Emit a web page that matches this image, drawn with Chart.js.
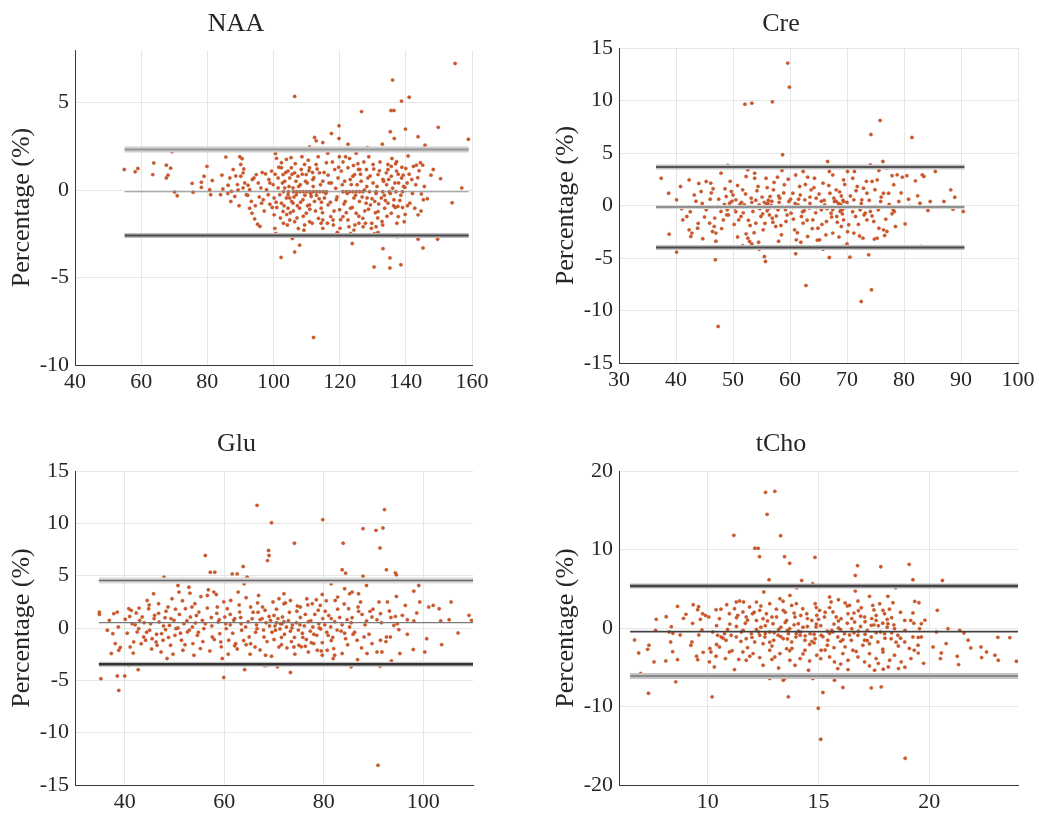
<!DOCTYPE html>
<html>
<head>
<meta charset="utf-8">
<script src="https://cdn.jsdelivr.net/npm/chart.js@4.4.1/dist/chart.umd.min.js"></script>
<style>
  html, body { margin: 0; padding: 0; background: #ffffff; }
  body { width: 1039px; height: 818px; position: relative; overflow: hidden; }
  .panel { position: absolute; }
</style>
</head>
<body>
<div class="panel" style="left:0px;top:0px;width:520px;height:405px"><canvas id="naa" width="520" height="405"></canvas></div>
<div class="panel" style="left:520px;top:0px;width:519px;height:405px"><canvas id="cre" width="519" height="405"></canvas></div>
<div class="panel" style="left:0px;top:410px;width:520px;height:408px"><canvas id="glu" width="520" height="408"></canvas></div>
<div class="panel" style="left:520px;top:410px;width:519px;height:408px"><canvas id="tcho" width="519" height="408"></canvas></div>
<script>
// Bland-Altman style panels: mean concentration (x) vs. percentage difference (y)

const panelTitles = ['NAA', 'Cre', 'Glu', 'tCho'];
const yAxisLabel = 'Percentage (%)';

// ---------- NAA ----------
const naaXTicks = [40, 60, 80, 100, 120, 140, 160];
const naaYTicks = [-10, -5, 0, 5];
const naaXRange = [40, 160];
const naaYRange = [-10, 8];
const naaLimits = [2.32, -0.1, -2.6];   // upper limit, mean bias, lower limit
const naaSpan = [55, 159];
const naaPoints = [
  [154.9,7.23],[136.0,6.28],[112.1,-8.43],
  [54.9,1.17],[58.2,1.04],[59.0,1.23],[63.8,1.54],[63.5,0.88],[67.6,1.42],[68.9,1.25],[67.6,0.69],[68.1,0.85],[69.3,2.19],
  [70.1,-0.12],[70.9,-0.33],[75.4,0.38],[75.7,-0.13],[78.2,0.44],[78.2,0.15],[79.0,0.79],[79.9,1.35],[80.7,0.02],[81.0,-0.27],
  [81.5,0.54],[84.0,-0.27],[84.4,0.85],[84.7,0.06],[85.6,1.88],[86.3,0.27],[86.8,0.69],[87.3,-0.08],[87.1,-0.65],[87.8,1.17],
  [88.3,-0.37],[89.1,0.31],[89.3,0.0],[89.8,1.9],[90.5,1.79],[90.1,1.46],[90.1,0.79],[90.8,0.98],[91.3,0.4],[90.8,0.12],
  [91.8,-0.27],[92.3,0.27],[92.8,0.02],[93.3,-0.65],[92.8,-1.04],[93.5,-1.33],[94.3,-1.65],[95.2,-1.96],[95.9,-2.08],[94.1,0.69],
  [94.8,0.88],[95.4,0.4],[96.4,-0.75],[96.9,-0.56],[96.2,0.12],[97.6,0.92],[97.9,0.02],[98.4,-0.27],[98.9,-0.81],[98.6,0.6],
  [99.4,1.08],[99.9,0.31],[100.2,-0.46],[100.6,2.08],[100.9,1.81],[100.2,-1.42],[100.4,-2.19],[100.7,-2.48],[102.3,-3.85],
  [102.4,1.56],[102.9,0.88],[103.4,0.12],[103.9,-0.46],[104.4,-1.04],[104.9,-1.71],[103.9,1.75],[105.3,1.85],
  [101.4,0.12],[101.9,-0.27],[102.4,-0.75],[102.9,-1.23],[103.4,0.5],[104.4,-0.27],[105.5,-0.65],[105.9,0.12],[101.4,0.69],
  [102.4,1.27],[104.4,1.08],
  [106.4,5.35],[138.7,5.08],[141.0,5.3],[126.6,4.48],[135.5,4.54],[136.4,4.54],[119.8,3.67],[117.5,3.23],[119.8,2.94],
  [112.4,3.0],[112.9,2.81],[114.9,2.71],[135.3,3.33],[136.5,2.94],[139.9,3.48],[143.7,3.04],[149.8,3.58],[158.9,2.9],
  [110.9,2.46],[111.4,2.27],[122.5,2.62],[128.4,2.42],[132.9,2.62],[140.2,2.37],[145.8,2.56],[150.3,2.27],[140.7,1.94],
  [137.2,1.62],[143.2,1.42],[144.4,1.56],[145.1,1.42],[142.3,1.35],[148.3,1.17],[147.6,0.85],[150.5,0.65],[140.0,1.23],
  [139.2,0.85],[140.4,0.4],[139.7,0.15],[156.9,0.12],[154.0,-0.73],[144.7,-0.23],[141.2,-0.75],[145.3,-0.56],[142.7,-1.04],
  [143.7,-1.42],[137.7,-1.52],[139.5,-1.81],[137.4,-2.67],[143.7,-2.81],[149.6,-2.81],[145.2,-3.31],[133.1,-3.35],[123.8,-3.06],
  [106.4,-3.54],[107.9,-3.15],[130.4,-4.4],[135.2,-4.46],[138.5,-4.27],[135.2,-3.88],[105.7,-2.77],[123.3,-2.48],[124.3,-2.29],
  [119.3,-2.42],[129.6,-2.19],[131.6,-2.42],[114.9,-2.19],[109.4,-2.0],[128.1,1.17],[130.1,1.46],[134.6,1.46],[135.6,1.35],
  [136.9,1.5],[134.1,0.98],[126.1,1.17],[124.0,0.79],
  [105.4,1.27],[106.4,0.98],[104.9,0.69],[107.4,0.79],[108.4,1.17],[109.4,1.46],[109.9,0.88],[110.9,1.27],[111.9,0.6],
  [112.9,1.46],[113.9,0.98],[114.9,0.5],[116.0,1.56],[116.5,0.85],[117.5,0.4],[118.5,1.17],[119.5,0.69],[120.5,1.08],
  [121.5,0.5],[122.5,1.27],[123.5,0.31],[124.5,0.88],[125.7,1.17],[126.5,0.5],[128.5,0.69],[130.1,0.4],[131.6,0.88],
  [133.1,0.6],[134.6,1.17],[135.6,0.79],[137.2,1.08],[138.7,0.69],
  [103.0,-0.1],[104.5,-0.1],[106.0,-0.1],[107.0,-0.1],[108.0,-0.1],[109.0,-0.1],[110.0,-0.1],[111.0,-0.1],[112.0,-0.1],
  [113.0,-0.1],[114.0,-0.1],[115.0,-0.1],[116.0,-0.1],[121.0,-0.1],[122.0,-0.1],[123.0,-0.1],[124.0,-0.1],[125.0,-0.1],
  [126.0,-0.1],[127.0,-0.1],[129.0,-0.1],[131.0,-0.1],[133.0,-0.1],[135.0,-0.1],[137.0,-0.1],[139.0,-0.1],
  [104.9,-0.46],[105.9,-0.75],[106.9,-0.27],[107.9,-1.04],[108.9,-0.56],[109.9,-1.33],[110.9,-0.85],[111.4,-0.37],
  [112.4,-0.65],[113.6,-1.62],[114.4,-1.04],[115.4,-0.46],[114.9,-1.71],[116.5,-0.85],[117.3,-1.52],[118.0,-1.71],
  [119.0,-0.56],[120.0,-1.13],[121.0,-1.52],[121.7,-0.65],[122.5,-1.71],[123.3,-1.04],[124.3,-0.46],[125.0,-1.33],
  [126.0,-0.65],[127.0,-1.62],[128.0,-0.75],[128.3,-0.46],[129.3,-0.85],[129.7,-1.9],[130.6,-0.65],[131.6,-1.23],
  [132.6,-0.46],[133.6,-1.04],[134.6,-0.75],[135.6,-1.33],[136.4,-0.56],[137.6,-0.94],
  [118.1,-2.0],[120.1,-2.19],[124.6,-2.0],[127.1,-2.1],[114.4,-1.9],[110.9,-1.81],[106.4,-1.81],
  [106.0,-1.2],[107.2,-0.9],[108.1,0.3],[109.0,-1.5],[110.2,0.4],[111.0,-1.1],[106.8,0.5],[108.6,1.9],[110.5,1.7],
  [107.5,-2.2],[112.0,0.2],[113.0,-0.3],[104.0,-1.4],[103.0,-1.9],[101.0,-1.0],[100.5,0.9],[109.5,-0.3],[111.8,1.0],
  [113.5,1.9],[114.5,-0.7],
  [121.0,1.6],[123.0,1.8],[125.5,1.5],[127.5,0.0],[128.8,1.9],[131.0,-0.2],[132.0,1.1],[133.5,-0.3],[134.2,0.3],
  [136.0,0.1],[137.8,0.4],[138.5,-0.3],[139.0,-1.0],[136.8,-1.0],[131.5,-1.6],[127.6,-1.2],[125.8,-1.9],[122.0,-1.3],
  [130.5,-2.5],[126.5,-2.6],[133.0,-2.0],[140.5,-0.9],[141.8,0.6],[143.0,0.3],[144.0,1.1],
  [100.8,-0.7],[101.6,1.3],[102.1,-1.6],[102.7,0.4],[103.2,-0.9],[103.7,1.0],[104.2,-2.0],[104.7,0.2],[105.1,-1.3],[105.6,0.9],
  [106.2,-0.4],[106.6,1.5],[107.1,-1.6],[107.6,0.2],[108.2,-0.7],[108.7,0.9],[109.2,-2.3],[109.7,0.5],[110.3,-0.9],[110.7,1.1],
  [111.2,-0.2],[111.7,-1.9],[112.2,0.7],[112.7,-1.2],[113.2,1.2],[113.8,-0.5],[114.2,0.3],[114.8,-1.3],[115.3,1.0],[115.8,-0.2],
  [116.3,-1.9],[116.8,0.4],[117.2,-0.7],[117.8,1.6],[118.3,-1.2],[118.8,0.1],[119.2,-0.4],[119.7,1.3],[120.3,-1.7],[120.8,0.3],
  [121.3,-0.8],[121.8,1.9],[122.3,-0.2],[122.8,-2.1],[123.2,0.6],[123.8,-1.0],[124.2,1.4],[124.8,-0.3],[125.3,0.3],[125.8,-1.5],
  [126.3,0.9],[126.8,-0.4],[127.3,1.6],[127.8,-1.9],[128.2,0.2],[128.7,-1.1],[129.2,0.8],[129.8,-0.5],[130.3,1.2],[130.8,-1.3],
  [131.3,0.2],[131.8,-0.8],[132.2,1.6],[132.8,-1.8],[133.3,0.5],[133.8,-0.6],[134.3,-1.5],[134.8,0.6],[135.3,-0.2],[135.8,1.8],
  [136.3,-0.9],[136.7,0.4],[137.3,-1.9],[137.7,0.9],[138.2,-0.6],[138.8,1.3],[139.3,0.2],[139.8,-1.4],[99.6,-1.0],[98.9,0.4],
  [97.2,-1.2],[96.6,1.0],[95.7,-0.4],[94.5,-0.9],[93.6,0.6],[92.2,-0.3],[91.0,1.2],[89.6,-0.9],[88.6,0.8],[86.2,-0.2],
  [142.0,-0.2],[141.0,0.9],[143.6,0.7],[144.6,-1.2],[145.6,0.2],[146.5,-0.5],[119.9,1.9],[116.4,2.1],[125.0,2.1],[131.0,-2.1]
];

// ---------- Cre ----------
const creXTicks = [30, 40, 50, 60, 70, 80, 90, 100];
const creYTicks = [-15, -10, -5, 0, 5, 10, 15];
const creXRange = [30, 100];
const creYRange = [-15, 15];
const creLimits = [3.66, -0.15, -4.0];
const creSpan = [36.5, 90.6];
const crePoints = [
  [59.6,13.56],[59.9,11.27],[52.1,9.65],[53.3,9.75],[56.9,9.87],[75.8,8.1],[74.2,6.76],[81.4,6.48],[82.4,0.92],
  [40.1,-4.44],[46.9,-5.17],[54.6,-4.16],[66.9,-4.95],[74.3,-8.03],[72.5,-9.14],[47.4,-11.52],[61.0,-4.6],[65.8,-4.16],
  [69.4,-3.9],[51.7,-3.84],[53.3,-3.65],
  [37.4,2.6],[47.9,3.08],[49.1,3.81],[52.6,3.4],[53.8,3.08],[52.3,2.76],[58.7,4.83],[58.6,3.33],[62.3,3.24],[63.1,2.7],
  [66.9,3.24],[66.6,4.19],[42.3,2.44],[40.8,1.81],[38.7,1.17],[40.1,0.54],[44.4,1.33],[45.3,2.29],[46.1,2.13],[38.8,-2.73],
  [41.2,-1.37],[41.9,-1.05],[42.3,-2.32],[42.6,-2.95],[42.8,-2.63],[43.8,-2.16],[44.7,-3.17],[45.9,-1.68],[46.4,-2.48],
  [46.7,-2.0],[47.0,-2.63],[47.3,-0.1],[47.9,-0.57],[48.3,-1.37],[48.9,-0.89],[48.8,0.86],[49.4,0.22],[49.7,1.33],
  [50.3,-0.25],[50.5,0.54],[51.0,-1.37],[51.4,-1.05],[51.7,1.49],[52.0,0.06],[52.3,-2.7],[52.6,-3.11],[52.9,-3.43],
  [53.2,0.7],[53.5,-0.57],[54.0,-1.68],[54.4,1.81],[54.6,0.06],[54.9,-1.05],[55.3,-2.32],[55.5,-4.86],[55.7,-5.33],
  [55.8,2.6],[56.1,0.22],[56.3,-0.25],[56.5,0.86],[56.9,-1.21],[57.1,1.49],[57.5,-2.0],[57.9,-0.41],[58.2,0.7],
  [58.5,-2.79],[58.7,-0.1],[59.0,1.97],[59.3,-1.52],[59.8,0.38],[60.2,-0.73],[60.5,1.17],[60.8,-2.32],[61.1,-3.27],
  [61.4,0.06],[61.7,1.81],[62.0,-1.05],[62.3,-1.68],[62.6,0.54],[62.8,-7.62],[63.1,-2.95],[63.4,-0.25],[63.7,1.49],
  [64.0,-1.37],[64.6,0.7],[64.9,-2.16],[65.2,-3.27],[65.5,-0.41],[65.8,2.13],[66.1,0.06],[66.4,-1.52],[67.0,1.17],
  [67.2,-0.73],[67.5,-2.63],[67.8,0.38],[68.1,1.49],
  [76.3,4.19],[74.1,3.87],[75.6,3.33],[77.0,3.56],[85.5,3.24],[83.2,2.92],[82.0,2.35],[83.5,2.76],[77.9,2.83],[78.8,2.92],
  [79.7,2.7],[80.5,2.83],[88.2,1.49],[88.9,0.79],[90.4,-0.57],[88.6,-0.35],[87.0,0.38],[84.6,0.38],[84.2,-0.48],[82.8,0.22],
  [81.0,-0.1],[80.2,-1.75],[78.3,-0.57],[77.9,-0.79],[78.1,-0.41],[79.1,0.38],[77.3,1.17],[78.2,1.97],[76.4,1.17],
  [75.9,0.38],[75.0,-0.1],[74.1,-0.57],[73.5,-1.37],[74.7,-1.52],[75.6,-2.16],[76.4,-2.32],[77.0,-2.48],[75.3,-3.11],
  [74.8,-3.2],[76.6,-2.86],[72.8,-3.11],[71.2,-2.63],[73.8,-4.7],[70.5,-4.92],[70.0,-3.65],[79.1,-3.97],[82.9,-3.9],
  [77.9,-4.06],[71.3,3.24],[69.4,2.44],[70.1,3.24],[71.8,1.81],[72.9,1.65],[73.5,1.17],[72.6,0.54],[71.2,0.54],
  [70.3,-0.1],[69.4,0.38],[69.0,-0.1],[68.8,-0.57],[68.2,-1.05],[69.4,-1.37],[70.3,-1.84],[69.0,-2.0],[71.5,-1.05],
  [72.3,-0.41],[73.2,-0.73],[74.4,2.29],[75.3,2.44],
  [68.5,0.2],[68.9,-0.3],[69.3,0.5],[69.7,-0.2],[68.1,0.4],[67.5,-0.4],[69.0,0.9],[70.0,0.3],[55.5,0.3],[56.0,-0.5],
  [56.8,0.4],[57.3,-0.2],[55.2,-0.8],[54.0,0.5],[50.5,-0.6],[51.5,0.3],[49.0,-0.4],[48.5,0.1],[60.5,-0.2],[61.5,0.6],
  [62.5,-0.5],[63.5,0.2],[64.5,-0.7],[65.5,0.4],[66.5,-0.3],[58.0,0.9],[59.5,-0.9],[57.0,-1.6],[53.0,-1.9],[50.0,1.0],
  [46.0,0.6],[45.0,-1.1],[43.5,0.4],[41.0,-0.3],
  [42.5,-0.6],[43.2,1.0],[43.9,-1.7],[44.6,0.2],[45.3,-0.4],[46.2,1.2],[46.8,-1.2],[47.5,0.6],[48.0,-2.2],[48.6,1.6],
  [49.2,-0.9],[49.8,0.4],[50.2,-1.8],[50.8,1.9],[51.2,0.1],[51.8,-0.7],[52.2,1.1],[52.7,-1.4],[53.3,0.3],[53.7,-2.6],
  [54.2,1.4],[54.7,-0.3],[55.1,0.8],[55.6,-1.7],[56.0,1.7],[56.4,-0.9],[56.7,0.0],[57.2,2.2],[57.6,-1.0],[58.1,0.3],
  [58.4,-1.9],[58.9,1.2],[59.2,-0.4],[59.7,2.5],[60.1,0.6],[60.6,-1.3],[60.9,0.2],[61.3,-2.6],[61.8,1.0],[62.2,-0.6],
  [62.7,2.0],[63.0,-1.4],[63.5,0.8],[63.9,-2.2],[64.2,1.7],[64.7,-0.2],[65.1,1.1],[65.6,-1.8],[66.0,0.5],[66.3,-2.8],
  [66.8,1.9],[67.3,-1.1],[67.7,0.7],[68.3,-1.6],[68.7,1.3],[69.2,-0.8],[69.6,2.0],[70.1,-2.5],[70.6,0.9],[71.0,-0.6],
  [71.6,1.4],[72.0,-1.8],[72.5,0.2],[73.0,-0.9],[73.4,2.3],[73.9,0.5],[74.4,-1.0],[74.9,1.5],[75.5,-0.4],[76.0,0.8],
  [76.8,-1.3],[77.4,0.1],[78.5,-2.0],[79.5,1.2],[80.8,0.6],[44.0,2.1],[47.0,-3.4],[50.8,-3.0],[54.5,-3.5],[58.0,-3.4],
  [61.9,-3.5],[64.8,-3.3],[68.6,-3.0],[72.2,-2.9],[53.8,2.6],[57.8,2.7],[61.0,2.9],[64.3,2.6],[67.5,2.9],[71.0,2.6],
  [49.5,2.3],[46.5,1.6],[56.2,0.5],[56.4,-0.1],[55.9,0.1],[68.9,0.1],[69.2,-0.4],[68.6,-0.1]
];

// ---------- Glu ----------
const gluXTicks = [40, 60, 80, 100];
const gluYTicks = [-15, -10, -5, 0, 5, 10, 15];
const gluXRange = [30, 110];
const gluYRange = [-15, 15];
const gluLimits = [4.53, 0.51, -3.47];
const gluSpan = [34.8, 110];
const gluPoints = [
  [66.6,11.72],[92.2,11.31],[79.8,10.35],[69.5,10.06],[87.9,9.49],[90.5,9.33],[91.9,9.55],[68.1,-3.6],[68.6,-3.57],
  [64.1,-3.98],[42.7,-3.98],[40.8,-3.57],[40.0,-4.59],[38.5,-4.59],[38.8,-5.96],[35.2,-4.84],[90.9,-13.12],
  [34.9,1.52],[34.9,1.3],[36.5,-0.22],[37.6,-0.54],[36.9,0.73],[37.8,1.37],[38.5,1.52],[38.7,0.1],[38.1,-1.49],
  [37.3,-2.44],[38.8,-2.13],[39.1,-1.87],[40.1,0.83],[40.8,1.84],[41.3,1.68],[41.5,0.41],[41.1,-1.81],[41.8,-1.33],
  [42.3,1.43],[42.5,-0.38],[42.8,-0.06],[43.0,0.73],[43.5,1.05],[43.8,-0.86],[44.2,-1.17],[44.5,2.63],[44.8,1.84],
  [45.2,0.41],[45.0,-0.22],[45.5,-1.02],[45.8,3.27],[46.0,1.21],[46.3,-1.33],[46.5,-1.65],[46.8,2.32],[46.9,0.57],
  [47.4,-0.54],[47.7,-1.17],[47.9,4.86],[48.1,0.98],[48.2,-0.16],[48.5,-2.92],[48.7,2.0],[49.0,0.25],[49.2,-1.65],
  [49.5,2.79],[49.9,0.73],[50.1,-0.7],[50.3,-0.06],[50.7,4.06],[50.9,3.43],[51.0,1.3],[51.4,-1.17],[51.7,-2.13],
  [51.9,0.41],[52.2,1.84],[52.6,-0.38],[52.9,3.9],[53.1,3.33],[53.2,1.05],[53.6,0.1],[53.7,-1.49],[54.1,2.32],
  [54.2,0.48],[54.6,-0.7],[54.9,1.52],[55.2,-1.97],[55.6,0.73],[55.9,-0.06],[56.2,6.92],[56.6,3.11],[56.8,3.65],
  [57.0,4.54],[57.2,5.33],[57.4,1.0],[57.6,-0.86],[57.9,3.43],[58.1,5.33],[58.4,3.2],[58.6,2.0],[58.8,0.57],
  [59.1,-0.54],[59.3,-1.33],[59.6,-2.92],[59.9,-4.73],[60.1,1.05],[60.4,-0.06],[60.6,1.84],[60.9,-1.17],[61.3,2.63],
  [61.6,5.17],[61.9,0.73],[62.3,-1.49],[62.6,5.17],[62.8,3.43],[63.1,1.52],[63.5,-0.22],[63.8,5.87],[64.0,4.22],
  [64.3,0.1],[64.6,4.86],[65.0,-0.86],[65.3,2.0],[65.6,0.89],[66.2,-1.81],[66.6,-0.06],[66.9,3.11],[67.7,2.0],
  [68.0,-0.86],[68.7,6.44],[68.9,7.4],[69.0,6.92],[69.3,0.73],[69.8,2.48],[70.3,-0.22],[70.7,-3.71],[71.0,-1.81],
  [71.3,0.41],[71.7,1.05],[72.0,2.32],
  [74.1,8.1],[83.9,8.1],[91.3,7.65],[83.7,5.56],[84.4,5.24],[87.9,4.95],[92.6,5.56],[94.4,5.27],[94.6,5.08],[81.5,4.22],
  [88.6,4.06],[99.1,4.06],[98.1,3.52],[85.7,3.43],[85.2,3.27],[87.0,3.27],[84.2,3.75],[79.7,3.2],[82.3,2.63],[82.8,2.95],
  [87.4,2.48],[91.1,2.48],[92.8,2.48],[94.6,3.02],[96.4,2.16],[99.3,2.48],[105.6,2.48],[102.0,2.16],[101.1,2.0],
  [103.2,1.84],[98.7,1.43],[95.8,1.21],[94.4,1.11],[93.2,1.62],[91.4,1.37],[89.3,1.59],[89.7,1.05],[88.6,0.67],
  [87.7,1.3],[87.0,1.59],[85.7,0.98],[85.0,1.84],[109.2,1.21],[109.7,0.73],[105.2,0.79],[103.5,0.67],[98.1,0.67],
  [96.8,0.79],[94.8,0.41],[94.1,0.25],[90.7,0.79],[107.0,-0.48],[100.7,-1.02],[103.7,-1.59],[98.0,-2.06],[100.3,-2.29],
  [95.3,-2.44],[96.8,-0.6],[95.1,-0.16],[93.4,-0.86],[92.6,-0.86],[91.4,-1.17],[89.7,-1.49],[88.7,-2.44],[91.7,-2.29],
  [93.6,-3.14],[91.3,-3.65],[85.5,-3.71],[86.8,-3.02],[73.3,-4.25],[88.1,-0.86],[86.7,-1.17],[85.9,-0.6],[84.4,-1.02],
  [83.7,-2.44],[82.0,-1.97],[80.7,-2.13],[78.7,-2.13],[81.9,-2.92],[79.7,-2.6],[78.0,-1.49],[76.3,-1.75],[75.0,-1.65],
  [74.0,-1.81],[79.3,2.16],[77.7,2.32],[76.6,2.79],[75.3,2.0],[73.3,2.63],[72.0,3.27],
  [66.5,0.3],[67.2,0.8],[67.9,-0.2],[68.4,0.5],[69.0,1.1],[69.6,-0.4],[70.2,0.2],[70.8,0.9],[71.2,-0.1],[71.6,0.4],
  [72.1,-0.6],[72.5,0.1],[72.9,0.7],[73.3,-0.3],[73.7,0.3],[74.1,-0.9],[74.5,0.5],[74.9,-0.2],[75.3,1.0],[75.7,-0.5],
  [76.1,0.2],[76.5,-1.1],[76.9,0.6],[77.3,-0.3],[77.8,0.1],[78.2,1.3],[78.6,-0.7],[79.0,0.4],[79.4,-0.1],[79.8,0.9],
  [80.2,0.3],[80.6,-0.4],[81.0,1.2],[81.4,0.1],[81.8,-0.9],[82.2,0.6],[82.7,-0.2],[83.2,1.0],[83.7,0.3],[84.2,-0.5],
  [84.7,0.8],[85.2,0.1],[70.5,1.8],[72.3,2.4],[74.6,1.6],[76.8,2.2],[78.9,1.7],[80.5,2.6],[71.5,-1.6],[73.5,-1.3],
  [75.5,-1.8],[77.5,-1.4],[79.5,-2.2],[81.5,-1.2],[68.3,-2.6],[70.0,-1.1],[66.8,1.5],[65.2,-2.5],[64.4,-1.6],[63.3,1.0],
  [62.1,-1.7],[61.2,0.3],
  [40.5,-0.5],[41.0,1.1],[41.7,-2.4],[42.1,0.3],[42.9,1.9],[43.3,-1.5],[43.9,0.5],[44.4,-0.4],[44.9,2.2],[45.4,-2.0],
  [45.9,0.9],[46.4,-0.6],[46.8,1.4],[47.3,-2.3],[47.8,0.2],[48.3,1.6],[48.8,-0.9],[49.3,0.9],[49.7,-2.5],[50.2,1.8],
  [50.7,0.0],[51.2,-0.5],[51.6,2.6],[52.1,-1.6],[52.5,0.7],[53.0,-0.2],[53.5,2.0],[53.9,-2.6],[54.4,1.2],[54.8,-0.4],
  [55.3,3.0],[55.7,-1.3],[56.2,0.4],[56.6,1.9],[57.1,-2.2],[57.5,0.2],[58.0,-1.1],[58.5,1.4],[59.0,0.8],[59.4,-1.8],
  [59.9,2.5],[60.3,0.4],[60.8,-2.5],[61.2,1.3],[61.7,-0.5],[62.1,0.9],[62.6,-2.0],[63.0,2.2],[63.4,0.4],[63.9,-1.2],
  [64.4,2.9],[64.8,0.6],[65.3,-1.5],[65.8,1.5],[66.3,-0.4],[66.7,2.4],[67.2,-2.1],[67.6,0.9],[68.2,1.7],[68.6,-1.3],
  [69.1,0.2],[69.5,-2.7],[70.0,1.2],[70.5,0.5],[71.0,2.8],[71.5,-0.9],[72.0,0.6],[72.6,-1.9],[73.1,1.5],[73.6,0.0],
  [74.2,-2.5],[74.7,2.1],[75.2,0.3],[75.8,-0.9],[76.3,1.3],[76.9,-2.3],[77.4,0.7],[78.0,-0.6],[78.5,2.7],[79.1,0.0],
  [79.7,-1.4],[80.3,1.6],[80.9,-0.7],[81.5,0.9],[82.2,-2.6],[82.8,1.8],[83.5,-0.3],[84.1,2.3],[84.8,-1.6],[85.5,0.5],
  [86.2,-0.4],[86.9,2.0],[87.6,-1.9],[88.3,0.3],[89.1,-0.6],[89.9,1.8],[90.7,-2.3],[91.6,0.5],[92.5,-1.3],[93.5,1.0]
];

// ---------- tCho ----------
const tchoXTicks = [10, 15, 20];
const tchoYTicks = [-20, -10, 0, 10, 20];
const tchoXRange = [6, 24];
const tchoYRange = [-20, 20];
const tchoLimits = [5.35, -0.46, -6.1];
const tchoSpan = [6.5, 24];
const tchoPoints = [
  [12.61,17.28],[13.03,17.41],[12.68,14.48],[11.18,11.8],[13.29,11.76],[12.13,10.15],[12.28,10.15],[12.34,9.09],
  [13.47,9.09],[14.84,9.0],[13.7,8.24],[19.09,8.11],[16.76,7.94],[17.81,7.81],[23.09,-1.19],[19.74,-4.5],
  [14.99,-10.23],[15.1,-14.18],[18.91,-16.6],[10.87,-6.07],[7.33,-8.32],[6.7,-1.53],[7.29,-2.72],[7.68,1.1],[8.13,1.44],
  [8.36,0.17],[8.43,-0.68],[8.42,-3.01],[8.76,-0.89],[8.91,1.23],[9.32,0.59],[9.59,2.72],[9.67,1.1],[9.74,-0.25],
  [12.77,6.14],[12.53,4.58],[14.02,5.13],[14.24,6.06],[14.74,5.64],[8.64,2.75],[9.35,2.97],[9.55,2.33],[9.02,1.74],
  [9.77,1.82],[10.05,1.4],[10.38,2.33],[10.53,1.19],[10.86,2.97],[11.29,3.31],[11.44,3.43],[11.62,3.31],[10.98,1.82],
  [11.21,2.46],[11.36,1.61],[11.59,2.03],[11.74,1.4],[11.89,2.67],[12.02,1.82],[12.2,0.97],[12.35,2.25],[12.5,1.19],
  [12.65,1.82],[12.8,3.09],[12.95,0.55],[13.11,1.4],[13.26,3.73],[13.41,2.25],[13.56,0.97],[13.71,4.15],[13.79,2.88],
  [13.94,1.4],[14.09,0.55],[14.29,2.46],[14.47,1.82],[14.7,0.97],[14.85,3.09],[14.92,1.61],
  [10.23,-0.51],[10.45,-0.93],[10.61,-1.14],[10.76,-0.72],[10.83,-1.57],[11.06,-0.93],[11.29,-1.14],[11.52,-0.51],
  [11.74,-1.36],[11.97,-0.72],[12.12,-1.78],[12.35,-0.93],[12.58,-1.14],[12.8,-0.51],[12.98,-1.57],[13.18,-0.93],
  [13.41,-1.36],[13.64,-0.72],[13.79,-1.78],[13.98,-1.14],[14.17,-0.93],[14.39,-1.57],[14.62,-0.72],[14.85,-1.36],
  [8.33,-1.78],[8.26,-0.51],[7.65,-0.3],[7.35,-2.2],[6.89,-3.18],[7.58,-4.32],[8.11,-4.19],[8.64,-4.03],[9.29,-1.78],
  [9.24,-2.2],[9.5,-3.6],[9.55,-4.03],[10.15,-3.05],[10.38,-3.6],[10.08,-4.32],[10.3,-4.96],[10.53,-2.42],[10.8,-3.9],
  [10.98,-3.05],[11.21,-5.3],[11.59,-3.05],[11.74,-4.11],[12.05,-3.26],[12.35,-3.77],[12.5,-4.75],[12.8,-2.84],
  [13.03,-3.69],[13.26,-3.26],[13.41,-6.65],[13.48,-6.44],[13.64,-8.77],[13.56,-2.63],[13.71,-4.11],[13.94,-4.75],
  [14.17,-3.9],[14.39,-2.84],[14.55,-5.38],[14.74,-6.44],[14.92,-3.47],[12.8,-6.44],[10.2,-8.77],[8.56,-6.86],[6.98,-5.8],
  [16.66,6.69],[19.26,6.14],[20.59,6.06],[18.48,5.13],[20.21,5.3],[16.66,4.7],[20.36,2.25],[15.5,3.94],[15.9,3.6],
  [15.57,3.31],[17.3,4.03],[18.13,4.03],[18.36,3.22],[19.34,3.39],[19.53,3.22],[16.78,3.43],[16.4,2.88],[16.93,2.58],
  [17.45,2.88],[17.76,3.09],[17.91,2.25],[19.26,1.91],[18.89,0.97],[19.16,0.97],[19.64,0.55],[19.56,-0.08],[15.05,2.25],
  [15.27,1.4],[15.65,2.03],[16.02,1.19],[16.33,1.82],[16.63,0.76],[17.08,1.4],[17.38,0.34],[17.6,0.97],[17.98,1.82],
  [18.13,0.55],[18.43,-0.08],[14.89,0.13],[15.12,-0.93],[15.42,-1.57],[15.65,-0.51],[15.87,-1.14],[16.17,-0.72],
  [16.48,-1.57],[16.78,-0.93],[17.08,-1.57],[17.38,-1.14],[17.68,-1.78],[17.98,-0.72],[18.28,-1.36],[18.58,-0.93],
  [18.89,-1.78],[19.26,-1.14],[19.49,-2.2],[19.64,-1.14],[20.32,-0.51],[20.84,-0.08],[21.37,-0.3],[21.56,-0.64],
  [20.17,-2.42],[20.54,-3.18],[20.5,-3.9],[20.76,-1.99],[21.26,-3.6],[21.32,-4.66],[21.75,-1.57],[21.87,-2.54],
  [22.33,-2.42],[22.36,-3.77],[22.58,-3.05],[22.96,-3.47],[23.11,-4.11],[23.63,-1.23],[23.93,-4.24],[15.12,-2.84],
  [15.5,-3.69],[15.72,-4.32],[16.1,-3.26],[16.33,-4.11],[16.55,-2.84],[16.78,-3.69],[17.08,-4.32],[17.3,-3.26],
  [17.6,-3.9],[17.91,-3.05],[18.21,-4.11],[18.43,-3.47],[18.73,-4.32],[19.17,-3.9],[19.32,-2.84],[15.87,-5.17],
  [16.33,-5.3],[17.3,-4.83],[17.92,-5.25],[18.15,-4.96],[18.61,-5.17],[16.93,-6.02],[17.45,-6.14],[17.53,-5.38],
  [15.72,-6.65],[16.1,-7.58],[17.38,-7.63],[17.83,-7.5],[15.2,-8.22],[20.21,-6.14],
  [12.2,-0.2],[12.6,0.3],[13.0,-0.6],[13.3,0.1],[13.6,-0.3],[13.9,0.4],[14.2,-0.5],[14.5,0.2],[14.8,-0.8],[15.1,0.3],
  [15.4,-0.4],[15.7,0.5],[16.0,-0.2],[16.3,0.6],[16.6,-0.6],[16.9,0.2],[17.2,-0.3],[17.5,0.4],[17.8,-0.5],[18.1,0.1],
  [12.9,-2.3],[13.8,-2.6],[14.6,-2.1],[15.3,-2.8],[16.2,-2.4],[17.0,-2.2],[11.3,0.2],[11.8,-2.5],[12.4,2.8],[13.4,3.4],
  [14.0,3.1],[15.5,2.6],[16.8,2.2],[17.6,1.6],[18.3,1.3],[18.6,-2.3],
  [9.6,-0.9],[9.9,1.6],[10.1,-2.6],[10.4,0.3],[10.6,2.4],[10.9,-0.2],[11.1,-2.9],[11.3,1.3],[11.5,-1.7],[11.7,0.6],
  [11.9,-3.6],[12.1,2.0],[12.3,-0.5],[12.5,-2.0],[12.7,0.9],[12.9,-4.0],[13.1,2.4],[13.3,-1.1],[13.5,0.7],[13.7,-2.9],
  [13.9,1.9],[14.1,-0.4],[14.3,-3.3],[14.5,1.2],[14.7,-1.7],[14.9,0.5],[15.1,-3.9],[15.3,2.0],[15.5,-0.7],[15.7,-2.5],
  [15.9,0.9],[16.1,-1.5],[16.3,2.8],[16.5,-0.1],[16.7,-3.0],[16.9,1.5],[17.1,-0.8],[17.3,-2.0],[17.5,2.3],[17.7,0.3],
  [17.9,-2.7],[18.1,1.1],[18.3,-0.6],[18.5,-1.8],[18.7,2.0],[18.9,-0.3],[19.1,-2.6],[19.3,0.6],[19.5,-1.2],[19.8,1.0],
  [12.0,-1.2],[12.4,0.1],[12.8,-1.8],[13.2,-0.2],[13.6,-1.4],[14.0,-0.7],[14.4,-1.0],[14.8,-1.9],[15.2,-1.1],[15.6,-0.3],
  [16.0,-1.7],[16.4,-0.9],[16.8,-0.4],[17.2,-1.6],[17.6,-0.6],[18.0,-1.3],[18.4,0.4],[11.6,-0.3],[11.0,0.5],[10.7,-1.3],
  [13.5,2.0],[14.2,1.6],[15.0,1.1],[15.8,1.4],[16.6,1.9],[17.4,1.2],[18.2,2.4],[12.9,1.4],[11.8,1.0],[14.6,-4.2],
  [16.0,-4.6],[17.7,-4.5],[13.2,-5.1],[11.4,-4.0],[18.9,-5.0],[19.5,-3.2],[10.4,-2.1],[9.8,-3.1],[15.9,0.0],[14.3,0.1],
  [16.5,1.2],[13.7,-0.1],[12.6,-0.7],[17.1,0.8],[15.4,-2.2],[14.9,2.6],[17.9,0.6],[18.7,-1.3],[16.2,3.2],[12.2,3.3]
];

// ---------- drawing ----------
const SERIF = "'Liberation Serif', 'Times New Roman', serif";
const TEXT = '#262626';
const AXIS = '#3a3a3a';
const GRID = '#e6e6e6';
const DOT = '#d9531e';

function buildPanel(canvasId, cfg) {
  const sets = [];
  cfg.limits.forEach((value, i) => {
    const st = cfg.lineStyles[i];
    const seg = [{ x: cfg.span[0], y: value }, { x: cfg.span[1], y: value }];
    if (st.halo) {
      sets.push({ type: 'line', data: seg, borderColor: st.halo, borderWidth: st.haloWidth,
                  pointRadius: 0, fill: false, order: 1 });
    }
    sets.push({ type: 'line', data: seg, borderColor: st.color, borderWidth: st.width,
                pointRadius: 0, fill: false, order: 0 });
  });
  sets.push({
    type: 'scatter',
    data: cfg.points.map(p => ({ x: p[0], y: p[1] })),
    pointRadius: 1.7,
    pointBackgroundColor: DOT,
    pointBorderColor: 'rgba(150,95,75,0.55)',
    pointBorderWidth: 0.6,
    order: 2
  });

  new Chart(document.getElementById(canvasId), {
    type: 'scatter',
    data: { datasets: sets },
    options: {
      responsive: false,
      animation: false,
      events: [],
      devicePixelRatio: 1,
      layout: { padding: { left: cfg.padLeft, right: cfg.padRight, top: 0, bottom: 0 } },
      plugins: {
        legend: { display: false },
        tooltip: { enabled: false },
        title: {
          display: true, text: cfg.title, color: TEXT,
          font: { family: SERIF, size: 26, weight: 'normal' },
          padding: { top: cfg.titleTop, bottom: cfg.titleBottom }
        }
      },
      scales: {
        x: {
          type: 'linear', min: cfg.xRange[0], max: cfg.xRange[1],
          afterBuildTicks: s => { s.ticks = cfg.xTicks.map(v => ({ value: v })); },
          afterFit: s => { s.height = cfg.xAxisHeight; },
          grid: { color: GRID, drawTicks: false, lineWidth: 1 },
          border: { color: AXIS, width: 1 },
          ticks: { color: TEXT, font: { family: SERIF, size: 22 }, padding: 4,
                   maxRotation: 0, autoSkip: false }
        },
        y: {
          type: 'linear', min: cfg.yRange[0], max: cfg.yRange[1],
          afterBuildTicks: s => { s.ticks = cfg.yTicks.map(v => ({ value: v })); },
          afterFit: s => { s.width = 75; },
          grid: { color: GRID, drawTicks: false, lineWidth: 1 },
          border: { color: AXIS, width: 1 },
          ticks: { color: TEXT, font: { family: SERIF, size: 22 }, padding: 6, autoSkip: false },
          title: { display: true, text: yAxisLabel, color: TEXT,
                   font: { family: SERIF, size: 26, weight: 'normal' },
                   padding: { top: 7, bottom: 0 } }
        }
      }
    }
  });
}

buildPanel('naa', {
  title: panelTitles[0], points: naaPoints, limits: naaLimits, span: naaSpan,
  xRange: naaXRange, yRange: naaYRange, xTicks: naaXTicks, yTicks: naaYTicks,
  padLeft: 0, padRight: 48, titleTop: 9, titleBottom: 9.8, xAxisHeight: 40,
  lineStyles: [
    { color: '#979797', width: 2, halo: '#cfcfcf', haloWidth: 6 },
    { color: '#8c8c8c', width: 1 },
    { color: '#4a4a4a', width: 2, halo: '#bdbdbd', haloWidth: 5 }
  ]
});

buildPanel('cre', {
  title: panelTitles[1], points: crePoints, limits: creLimits, span: creSpan,
  xRange: creXRange, yRange: creYRange, xTicks: creXTicks, yTicks: creYTicks,
  padLeft: 24, padRight: 21, titleTop: 9, titleBottom: 7.8, xAxisHeight: 42,
  lineStyles: [
    { color: '#555555', width: 2, halo: '#c2c2c2', haloWidth: 5 },
    { color: '#7a7a7a', width: 1.5, halo: '#d6d6d6', haloWidth: 4 },
    { color: '#4a4a4a', width: 2, halo: '#c2c2c2', haloWidth: 5 }
  ]
});

buildPanel('glu', {
  title: panelTitles[2], points: gluPoints, limits: gluLimits, span: gluSpan,
  xRange: gluXRange, yRange: gluYRange, xTicks: gluXTicks, yTicks: gluYTicks,
  padLeft: 0, padRight: 47, titleTop: 19, titleBottom: 10.8, xAxisHeight: 33,
  lineStyles: [
    { color: '#666666', width: 1.5, halo: '#dadada', haloWidth: 6 },
    { color: '#7a7a7a', width: 1.2 },
    { color: '#333333', width: 2.5, halo: '#c4c4c4', haloWidth: 5 }
  ]
});

buildPanel('tcho', {
  title: panelTitles[3], points: tchoPoints, limits: tchoLimits, span: tchoSpan,
  xRange: tchoXRange, yRange: tchoYRange, xTicks: tchoXTicks, yTicks: tchoYTicks,
  padLeft: 24, padRight: 21, titleTop: 19, titleBottom: 10.8, xAxisHeight: 33,
  lineStyles: [
    { color: '#444444', width: 2.5, halo: '#bdbdbd', haloWidth: 5 },
    { color: '#444444', width: 1.8 },
    { color: '#8a8a8a', width: 2, halo: '#c4c4c4', haloWidth: 6 }
  ]
});
</script>
</body>
</html>
